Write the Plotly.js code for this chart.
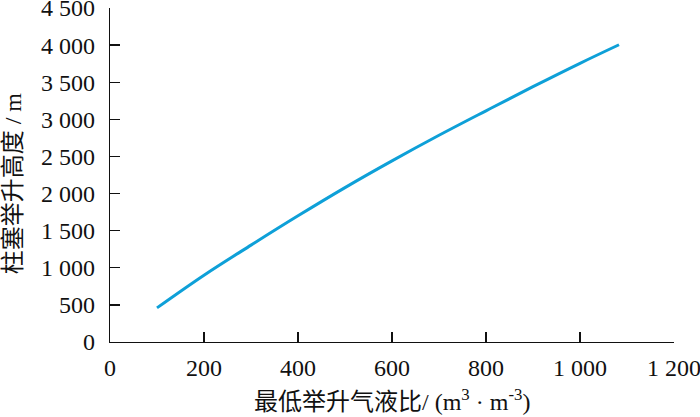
<!DOCTYPE html>
<html>
<head>
<meta charset="utf-8">
<script src="https://cdn.plot.ly/plotly-3.0.1.min.js"></script>
<style>
  html, body { margin: 0; padding: 0; background: #fff; }
  #chart { width: 700px; height: 417px; }
</style>
</head>
<body>
<div id="chart"></div>
<script>
// 最低举升气液比 (m3/m3) vs 柱塞举升高度 (m)
let gasLiquidRatio = [100, 200, 300, 400, 500, 600, 700, 800, 900, 1000, 1083];
let liftHeight = [460, 900, 1305, 1700, 2080, 2440, 2785, 3115, 3440, 3755, 4005];

let xTicks = [0, 200, 400, 600, 800, 1000, 1200];
let yTicks = [0, 500, 1000, 1500, 2000, 2500, 3000, 3500, 4000, 4500];

let tickFont = {family: 'Liberation Serif, "Times New Roman", serif', size: 24, color: '#111'};
let titleFont = {family: 'Liberation Serif, "Noto Sans CJK SC", serif', size: 24, color: '#111'};

let axisCommon = {
    showgrid: false,
    zeroline: false,
    showline: true,
    linecolor: '#111',
    linewidth: 1.3,
    ticks: 'inside',
    ticklen: 10,
    tickwidth: 1.3,
    tickcolor: '#111',
    tickformat: ',d',
    tickfont: tickFont,
    ticklabeloverflow: 'allow',
    mirror: false
};

Plotly.newPlot('chart', [{
    x: gasLiquidRatio,
    y: liftHeight,
    type: 'scatter',
    mode: 'lines',
    line: {color: '#0ea0d8', width: 3, shape: 'spline'},
    hoverinfo: 'skip'
}], {
    width: 700,
    height: 417,
    margin: {l: 110, r: 26, t: 8, b: 75},
    paper_bgcolor: '#fff',
    plot_bgcolor: '#fff',
    separators: '. ',
    showlegend: false,
    xaxis: Object.assign({}, axisCommon, {
        range: [0, 1200],
        tickvals: xTicks,
        ticklabelstandoff: 4
    }),
    yaxis: Object.assign({}, axisCommon, {
        range: [0, 4500],
        tickvals: yTicks,
        ticklabelstandoff: 9
    }),
    annotations: [
        {
            text: '最低举升气液比/ (m<sup>3</sup> · m<sup>-3</sup>)',
            xref: 'paper', yref: 'paper', x: 0.5, y: -0.175,
            xanchor: 'center', yanchor: 'middle', showarrow: false,
            font: titleFont
        },
        {
            text: '柱塞举升高度 / m',
            xref: 'paper', yref: 'paper', x: -0.172, y: 0.475,
            xanchor: 'center', yanchor: 'middle', showarrow: false,
            textangle: -90, font: titleFont
        }
    ]
}, {staticPlot: true});
</script>
</body>
</html>
